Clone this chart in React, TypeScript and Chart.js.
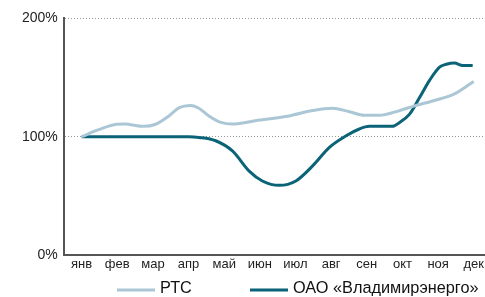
import React, { useEffect, useRef } from "react";
import { Chart, registerables } from "chart.js";

Chart.register(...registerables);

const months = ["янв", "фев", "мар", "апр", "май", "июн", "июл", "авг", "сен", "окт", "ноя", "дек"];
const yTicks = [0, 100, 200];

const rtsLabel = "РТС";
const rtsX = [0, 0.48, 0.98, 1.2, 1.74, 2.08, 2.45, 2.73, 3.07, 3.29, 3.57, 3.91, 4.22, 4.98, 5.82, 6.47, 7.03, 7.51, 7.93, 8.35, 8.92, 9.34, 9.9, 10.46, 11];
const rtsY = [100, 105.9, 110.5, 110.7, 108.7, 110.5, 117.5, 124.3, 126.3, 124, 117.5, 112, 110.6, 114, 117.5, 122, 124, 121, 118, 118, 122, 126, 130.5, 136, 146.6];

const vladLabel = "ОАО «Владимирэнерго»";
const vladX = [0, 1, 2, 3.01, 3.29, 3.76, 4.23, 4.7, 5.07, 5.54, 6.01, 6.48, 6.95, 7.42, 7.79, 8.07, 8.72, 8.92, 9.2, 9.48, 9.76, 10.04, 10.23, 10.46, 10.69, 10.97];
const vladY = [100, 100, 100, 100, 99.4, 96.6, 88, 71, 62.7, 59, 62.7, 75.4, 91, 100.8, 106.5, 108.7, 108.7, 112, 119, 133, 147.5, 158.7, 161, 162, 160, 160];

const rtsColor = "#abc7d6";
const vladColor = "#0b6378";

const legendPlugin = {
  id: "customLegend",
  afterDraw(chart: any) {
    const ctx = chart.ctx;
    const y = 289;
    const items = [
      { label: rtsLabel, color: rtsColor, x: 117 },
      { label: vladLabel, color: vladColor, x: 250 },
    ];
    ctx.save();
    ctx.font = "16.3px 'Liberation Sans', Arial, sans-serif";
    ctx.textBaseline = "middle";
    for (const it of items) {
      ctx.strokeStyle = it.color;
      ctx.lineWidth = 3;
      ctx.beginPath();
      ctx.moveTo(it.x, y + 1);
      ctx.lineTo(it.x + 38, y + 1);
      ctx.stroke();
      ctx.fillStyle = "#111";
      ctx.fillText(it.label, it.x + 43, y);
    }
    ctx.restore();
  },
};

export default function App() {
  const ref = useRef<HTMLCanvasElement>(null);
  useEffect(() => {
    const chart = new Chart(ref.current!, {
      type: "line",
      data: {
        datasets: [
          {
            label: rtsLabel,
            data: rtsX.map((x, i) => ({ x, y: rtsY[i] })),
            borderColor: rtsColor,
            backgroundColor: rtsColor,
            borderWidth: 3,
            pointRadius: 0,
            cubicInterpolationMode: "monotone",
          },
          {
            label: vladLabel,
            data: vladX.map((x, i) => ({ x, y: vladY[i] })),
            borderColor: vladColor,
            backgroundColor: vladColor,
            borderWidth: 3,
            pointRadius: 0,
            cubicInterpolationMode: "monotone",
          },
        ],
      },
      options: {
        animation: false,
        responsive: false,
        maintainAspectRatio: false,
        layout: { padding: { left: 16, right: 0, top: 18, bottom: 24 } },
        plugins: { legend: { display: false }, tooltip: { enabled: false } },
        scales: {
          x: {
            type: "linear",
            min: -0.5,
            max: 11.3,
            afterBuildTicks: (scale: any) => {
              scale.ticks = months.map((_, i) => ({ value: i }));
            },
            grid: { display: false, drawTicks: false },
            border: { display: true, color: "#555", width: 2 },
            ticks: {
              padding: 1,
              autoSkip: false,
              maxRotation: 0,
              color: "#222",
              font: { family: "'Liberation Sans', Arial, sans-serif", size: 13 },
              callback: (v: any) => months[Math.round(Number(v))] ?? "",
            },
          },
          y: {
            min: 0,
            max: 200,
            afterBuildTicks: (scale: any) => {
              scale.ticks = yTicks.map((v) => ({ value: v }));
            },
            grid: {
              drawTicks: false,
              color: (c: any) => (c.tick && c.tick.value === 0 ? "rgba(0,0,0,0)" : "#999"),
              lineWidth: 1,
            },
            border: { display: true, color: "#555", width: 2, dash: [1, 2] },
            ticks: {
              padding: 6,
              color: "#222",
              font: { family: "'Liberation Sans', Arial, sans-serif", size: 14 },
              callback: (v: any) => v + "%",
            },
          },
        },
      },
      plugins: [legendPlugin],
    } as any);
    return () => chart.destroy();
  }, []);
  return (
    <div style={{ position: "fixed", left: 0, top: 0, width: 485, height: 297, background: "#fff" }}>
      <canvas ref={ref} width={485} height={297} />
    </div>
  );
}
